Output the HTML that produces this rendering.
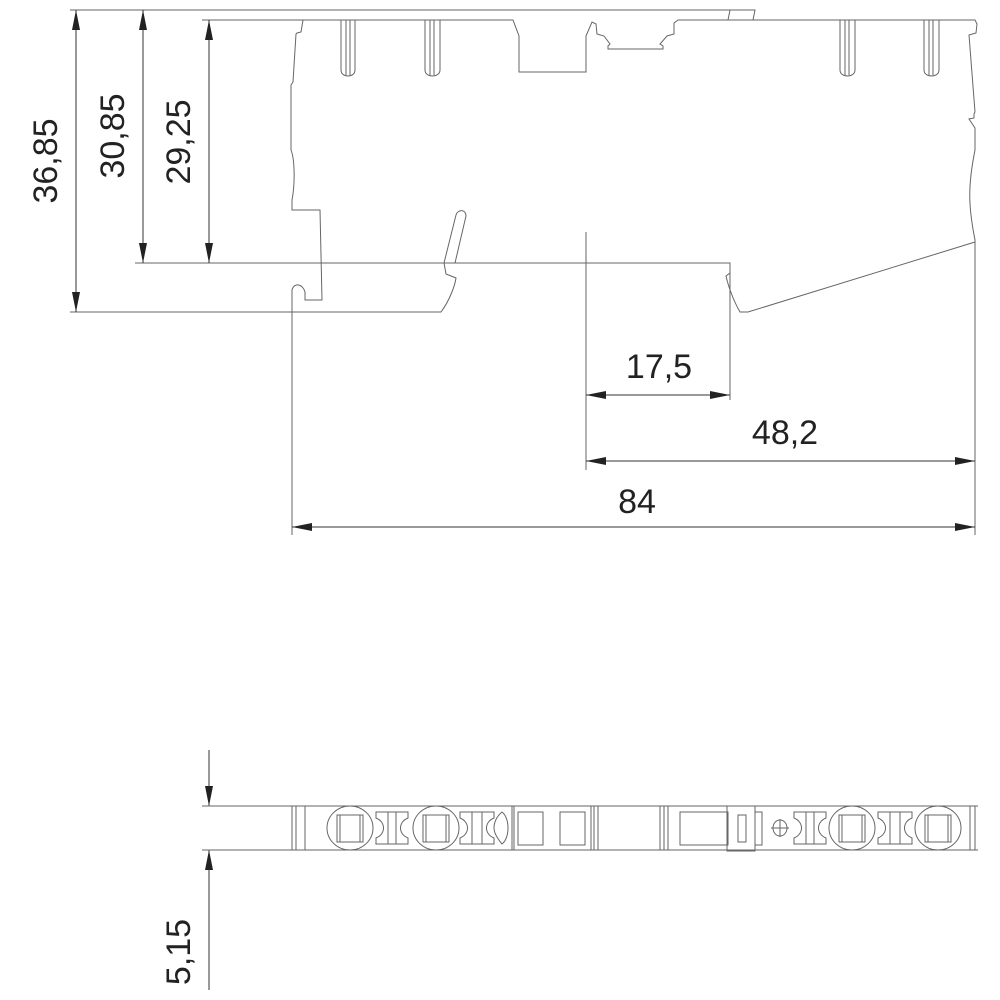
<!DOCTYPE html>
<html><head><style>
html,body{margin:0;padding:0;background:#fff;}
svg{display:block;}
text{font-family:"Liberation Sans",sans-serif;font-size:34px;fill:#222;}
</style></head><body>
<svg width="1000" height="1000" viewBox="0 0 1000 1000" xmlns="http://www.w3.org/2000/svg">
<defs>
<marker id="a" viewBox="0 0 20 8" refX="20" refY="4" markerWidth="20" markerHeight="8" markerUnits="userSpaceOnUse" orient="auto-start-reverse">
<path d="M0,0 L20,4 L0,8 z" fill="#222"/></marker>
</defs>
<g fill="none" stroke="#666" stroke-width="1">
<path d="M202,10 H755 L753,20"/>
<path d="M730,10 L728,20"/>
<path d="M202,20 H513 L519,36 V72 H586 V36 L592,22 L596,24 L597,34 L604,36 L610,44 L608,46 V49 H663 V46 L660,44 L667,36 L674,34 V23 L678,20 H975 L977,24 L976,33 L969,35 L975,112"/>
<path d="M303,20 L301,32 L297,33 L296,34 L293,82 L291,85 V150 C295,160 295,185 292,200 V210 H320 L322,300 H305 V292 C303,284 294,282 292,290 V535"/>
<path d="M975,112 L974,114 V118 L969,119 L975,128 V150 C968,185 968,205 975,240 V535"/>
<path d="M975,242 L748,312 H740 C733,300 728,285 726,276 L730,273"/>
<path d="M70,312 H441 C450,300 455,285 456,278 L446,274 L444,263"/>
<path d="M444,263 L456,215 C458,209 466,209 466,216 L455,263"/>
<path d="M341,20 V70 C341,78 355,78 355,70 V20 M346,20 V75 M350,20 V75"/>
<path d="M425,20 V70 C425,78 440,78 440,70 V20 M430,20 V75 M434,20 V75"/>
<path d="M840,20 V70 C840,78 855,78 855,70 V20 M845,20 V75 M849,20 V75"/>
<path d="M924,20 V70 C924,78 939,78 939,70 V20 M929,20 V75 M933,20 V75"/>
<path d="M70,10 H202 M70,312 H80 M135,263 H730 V400 M202,20 H215 M586,232 V470 M292,300 V535"/>
</g>
<g stroke="#333" stroke-width="1" fill="none">
<line x1="76" y1="10" x2="76" y2="312" marker-start="url(#a)" marker-end="url(#a)"/>
<line x1="143" y1="10" x2="143" y2="263" marker-start="url(#a)" marker-end="url(#a)"/>
<line x1="209" y1="20" x2="209" y2="263" marker-start="url(#a)" marker-end="url(#a)"/>
<line x1="586" y1="395" x2="730" y2="395" marker-start="url(#a)" marker-end="url(#a)"/>
<line x1="586" y1="461" x2="975" y2="461" marker-start="url(#a)" marker-end="url(#a)"/>
<line x1="292" y1="527" x2="975" y2="527" marker-start="url(#a)" marker-end="url(#a)"/>
<line x1="209" y1="750" x2="209" y2="806" marker-end="url(#a)"/>
<line x1="209" y1="990" x2="209" y2="850" marker-end="url(#a)"/>
</g>
<text transform="translate(57,161) rotate(-90)" text-anchor="middle">36,85</text>
<text transform="translate(124,136) rotate(-90)" text-anchor="middle">30,85</text>
<text transform="translate(190,142) rotate(-90)" text-anchor="middle">29,25</text>
<text transform="translate(659,378)" text-anchor="middle">17,5</text>
<text transform="translate(785,444)" text-anchor="middle">48,2</text>
<text transform="translate(637,513)" text-anchor="middle">84</text>
<text transform="translate(190,952) rotate(-90)" text-anchor="middle">5,15</text>
<g fill="none" stroke="#666" stroke-width="1">
<path d="M202,806 H978 M202,850 H978"/>
<path d="M292,806 V850 M296,806 V850 M305,806 V850 M970,806 V850 M975,806 V850"/>
<path d="M512,806 V850 M514,806 V850 M591,806 V850 M594,806 V850 M598,806 V850 M660,806 V850 M664,806 V850 M668,806 V850"/>
<ellipse cx="350" cy="828" rx="23" ry="22"/>
<ellipse cx="436" cy="828" rx="23" ry="22"/>
<ellipse cx="852" cy="828" rx="23" ry="22"/>
<ellipse cx="938" cy="828" rx="23" ry="22"/>
<rect x="337" y="815" width="26" height="27"/><rect x="340" y="815" width="20" height="27"/>
<rect x="423" y="815" width="26" height="27"/><rect x="426" y="815" width="20" height="27"/>
<rect x="839" y="815" width="26" height="27"/><rect x="842" y="815" width="20" height="27"/>
<rect x="925" y="815" width="26" height="27"/><rect x="928" y="815" width="20" height="27"/>
<path d="M376,812 H408 V818 C398,822 398,834 408,838 V844 H376 V838 C386,834 386,822 376,818 Z M388,812 V844 M396,812 V844"/>
<path d="M460,812 H494 V818 C484,822 484,834 494,838 V844 H460 V838 C470,834 470,822 460,818 Z M472,812 V844 M482,812 V844"/>
<path d="M794,812 H826 V818 C816,822 816,834 826,838 V844 H794 V838 C804,834 804,822 794,818 Z M806,812 V844 M814,812 V844"/>
<path d="M878,812 H912 V818 C902,822 902,834 912,838 V844 H878 V838 C888,834 888,822 878,818 Z M890,812 V844 M900,812 V844"/>
<path d="M502,812 C510,818 510,838 502,844 C497,838 494,832 494,828 C494,822 497,816 502,812 Z"/>
<rect x="518" y="812" width="25" height="33"/>
<rect x="560" y="812" width="25" height="33"/>
<rect x="680" y="812" width="48" height="33"/>
<rect x="727" y="806" width="28" height="45"/>
<rect x="738" y="815" width="8" height="27"/>
<path d="M755,812 H762 V845 H755"/>
<ellipse cx="780" cy="828" rx="7" ry="8"/>
<path d="M771,828 H789 M780,819 V837"/>
</g>
</svg>
</body></html>
